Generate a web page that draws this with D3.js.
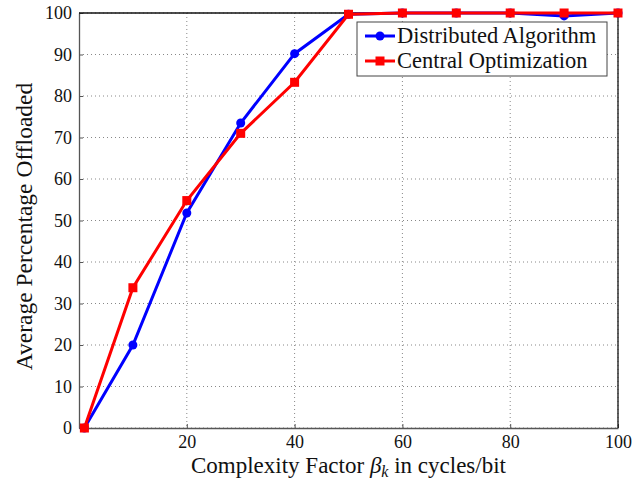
<!DOCTYPE html>
<html lang="en">
<head>
<meta charset="UTF-8">
<title>Offloading chart</title>
<script src="https://d3js.org/d3.v7.min.js"></script>
<style>
    body, html { margin: 0; padding: 0; background: white; }
    text { font-family: "Liberation Serif", "DejaVu Serif", serif; fill: #111; }
</style>
</head>
<body>
<script>
'use strict'

// data
const xValues = [1, 10, 20, 30, 40, 50, 60, 70, 80, 90, 100]
const distributed = [0, 20, 51.8, 73.5, 90.2, 99.7, 100, 100, 100, 99.3, 100]
const central = [0, 33.8, 54.8, 71, 83.3, 99.7, 100, 100, 100, 100, 100]
const xTicks = [20, 40, 60, 80, 100]
const yTicks = [0, 10, 20, 30, 40, 50, 60, 70, 80, 90, 100]
const seriesNames = ['Distributed Algorithm', 'Central Optimization']

const W = 644, H = 479
const margin = {top: 13, right: 26, bottom: 51, left: 79}
const w = W - margin.left - margin.right
const h = H - margin.top - margin.bottom

const svg = d3.select('body').append('svg')
    .attr('width', W)
    .attr('height', H)

const g = svg.append('g')
    .attr('transform', `translate(${margin.left}, ${margin.top})`)

const x = d3.scaleLinear().domain([0, 100]).range([0, w])
const y = d3.scaleLinear().domain([0, 100]).range([h, 0])

//grid
g.selectAll('.vgrid')
    .data(xTicks)
    .enter()
    .append('line')
    .attr('x1', d => x(d)).attr('x2', d => x(d))
    .attr('y1', 0).attr('y2', h)
    .attr('stroke', '#888')
    .attr('stroke-width', 1)
    .attr('stroke-dasharray', '1,3')

g.selectAll('.hgrid')
    .data(yTicks)
    .enter()
    .append('line')
    .attr('x1', 0).attr('x2', w)
    .attr('y1', d => y(d)).attr('y2', d => y(d))
    .attr('stroke', '#888')
    .attr('stroke-width', 1)
    .attr('stroke-dasharray', '1,3')

//axes
const xAxis = d3.axisBottom(x).tickValues(xTicks).tickSizeInner(-4).tickSizeOuter(0).tickPadding(7)
const yAxis = d3.axisLeft(y).tickValues(yTicks).tickSizeInner(-4).tickSizeOuter(0).tickPadding(7)

const gx = g.append('g')
    .attr('transform', `translate(0, ${h})`)
    .call(xAxis)
const gy = g.append('g').call(yAxis)

;[gx, gy].forEach(a => {
    a.selectAll('text').style('font-size', '18px').attr('fill', '#111')
    a.selectAll('line').attr('stroke', '#555')
    a.select('.domain').attr('stroke', '#555').attr('stroke-width', 1.3)
})

// top and right frame
g.append('line').attr('x1', 0).attr('x2', w).attr('y1', 0).attr('y2', 0)
    .attr('stroke', '#111').attr('stroke-width', 1.3)
g.append('line').attr('x1', w).attr('x2', w).attr('y1', 0).attr('y2', h)
    .attr('stroke', '#111').attr('stroke-width', 1.3)

//lines
const line = d3.line()
    .x((d, i) => x(xValues[i]))
    .y(d => y(d))

g.append('path')
    .datum(distributed)
    .attr('fill', 'none')
    .attr('stroke', '#0000ff')
    .attr('stroke-width', 3)
    .attr('d', line)

g.selectAll('.dot')
    .data(distributed)
    .enter()
    .append('circle')
    .attr('cx', (d, i) => x(xValues[i]))
    .attr('cy', d => y(d))
    .attr('r', 4.5)
    .attr('fill', '#0000ff')

g.append('path')
    .datum(central)
    .attr('fill', 'none')
    .attr('stroke', '#ff0000')
    .attr('stroke-width', 3)
    .attr('d', line)

g.selectAll('.sq')
    .data(central)
    .enter()
    .append('rect')
    .attr('x', (d, i) => x(xValues[i]) - 4.5)
    .attr('y', d => y(d) - 4.5)
    .attr('width', 9)
    .attr('height', 9)
    .attr('fill', '#ff0000')

//legend
const legend = svg.append('g')
    .attr('transform', 'translate(357, 22)')

legend.append('rect')
    .attr('width', 250)
    .attr('height', 54)
    .attr('fill', 'white')
    .attr('stroke', '#444')
    .attr('stroke-width', 1)

const colors = ['#0000ff', '#ff0000']
seriesNames.forEach((name, i) => {
    const ly = 14 + i * 25
    legend.append('line')
        .attr('x1', 8).attr('x2', 38)
        .attr('y1', ly).attr('y2', ly)
        .attr('stroke', colors[i])
        .attr('stroke-width', 3)
    if (i === 0) {
        legend.append('circle').attr('cx', 23).attr('cy', ly).attr('r', 4.5).attr('fill', colors[i])
    } else {
        legend.append('rect').attr('x', 18.5).attr('y', ly - 4.5).attr('width', 9).attr('height', 9).attr('fill', colors[i])
    }
    legend.append('text')
        .text(name)
        .attr('x', 40)
        .attr('y', ly + 7)
        .style('font-size', '22.5px')
})

//axis labels
const xl = svg.append('text')
    .attr('x', margin.left + w / 2)
    .attr('y', 473)
    .attr('text-anchor', 'middle')
    .style('font-size', '23px')
xl.append('tspan').text('Complexity Factor ')
xl.append('tspan').text('β').style('font-style', 'italic')
xl.append('tspan').text('k').style('font-style', 'italic').style('font-size', '16px').attr('dy', 4)
xl.append('tspan').text(' in cycles/bit').attr('dy', -4)

svg.append('text')
    .text('Average Percentage Offloaded')
    .attr('transform', `translate(32, ${margin.top + h / 2 + 6}) rotate(-90)`)
    .attr('text-anchor', 'middle')
    .style('font-size', '23.5px')
</script>
</body>
</html>
